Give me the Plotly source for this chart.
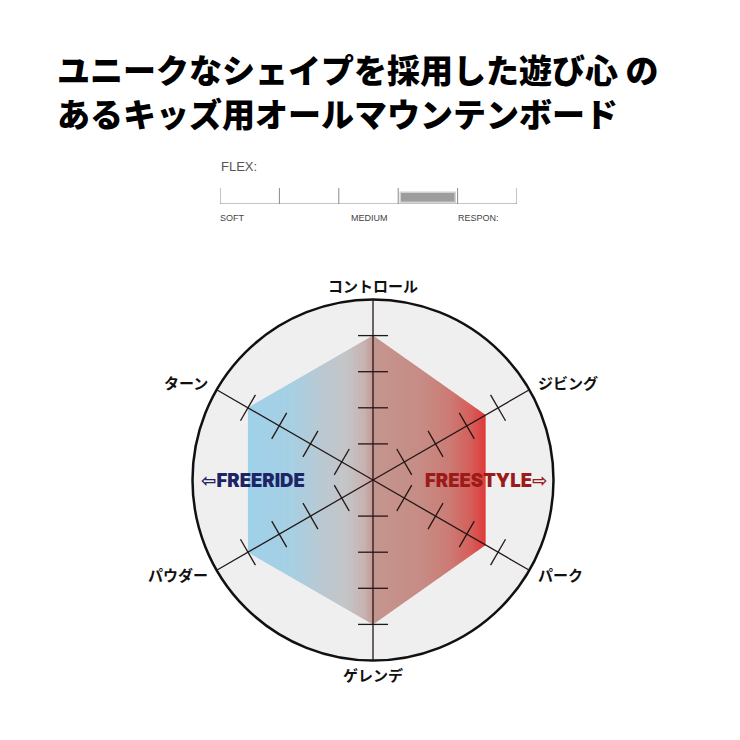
import numpy as np
import plotly.graph_objects as go

# ---------------- data ----------------
TITLE_LINES = ["ユニークなシェイプを採用した遊び心 の", "あるキッズ用オールマウンテンボード"]
AXES = ["コントロール", "ジビング", "パーク", "ゲレンデ", "パウダー", "ターン"]
ANGLES_DEG = [90, 30, -30, -90, -150, 150]
VALUES = [4, 3.6, 3.6, 4, 4, 4]
RADIAL_MAX = 5
RADIAL_TICKS = [1, 2, 3, 4]
STYLE_LABELS = ["⇦FREERIDE", "FREESTYLE⇨"]
FLEX_TITLE = "FLEX:"
FLEX_SEGMENTS = 5
FLEX_VALUE = 4
FLEX_LABELS = ["SOFT", "MEDIUM", "RESPON:"]
FLEX_LABEL_AT = [0, 2.2, 4]

# ---------------- style / layout ----------------
W = H = 740
OFF = 8                               # page body margin
CX, CY, S = 373 - OFF, 480 - OFF, 36.1  # pixel centre and px per unit
XR = [-CX / S, (W - CX) / S]
YR = [-(H - CY) / S, CY / S]


def px(x):
    return (x - OFF) / W


def py(y):
    return 1 - (y - OFF) / H


GRAD = [(0.00, "#9fd1ea"), (0.18, "#a6d0e4"), (0.30, "#b8c9d4"), (0.41, "#c5c5c8"),
        (0.49, "#c7b3b2"), (0.53, "#c4968f"), (0.73, "#c68c85"), (0.85, "#cc7b75"),
        (0.94, "#d65e59"), (1.00, "#df3a3a")]


def hex2rgb(h):
    h = h.lstrip("#")
    return [int(h[i:i + 2], 16) for i in (0, 2, 4)]


def grad_color(f):
    f = min(max(f, 0), 1)
    for (f0, c0), (f1, c1) in zip(GRAD[:-1], GRAD[1:]):
        if f <= f1:
            t = 0 if f1 == f0 else (f - f0) / (f1 - f0)
            a, b = hex2rgb(c0), hex2rgb(c1)
            return "rgb(%d,%d,%d)" % tuple(round(a[i] + t * (b[i] - a[i])) for i in range(3))
    return GRAD[-1][1]


def clip(poly, x0, keep_greater):
    out = []
    n = len(poly)
    for i in range(n):
        P, Q = poly[i], poly[(i + 1) % n]
        pin = P[0] >= x0 if keep_greater else P[0] <= x0
        qin = Q[0] >= x0 if keep_greater else Q[0] <= x0
        if pin:
            out.append(P)
        if pin != qin:
            t = (x0 - P[0]) / (Q[0] - P[0])
            out.append((x0, P[1] + t * (Q[1] - P[1])))
    return out


ang = np.radians(ANGLES_DEG)
hexpts = [(v * np.cos(a), v * np.sin(a)) for v, a in zip(VALUES, ang)]
xmin = min(p[0] for p in hexpts)
xmax = max(p[0] for p in hexpts)

fig = go.Figure()

# gradient-filled polygon as thin vertical strips
N = 160
step = (xmax - xmin) / N
for i in range(N):
    a = xmin + i * step
    b = min(a + step * 1.8, xmax)
    poly = clip(clip(hexpts, a, True), b, False)
    if len(poly) < 3:
        continue
    xs = [p[0] for p in poly] + [poly[0][0]]
    ys = [p[1] for p in poly] + [poly[0][1]]
    fig.add_trace(go.Scatter(x=xs, y=ys, mode="lines", fill="toself",
                             fillcolor=grad_color((a + step / 2 - xmin) / (xmax - xmin)),
                             line=dict(width=0), hoverinfo="skip", showlegend=False))

# spokes
sx, sy = [], []
for a in ang:
    sx += [0, RADIAL_MAX * np.cos(a), None]
    sy += [0, RADIAL_MAX * np.sin(a), None]
fig.add_trace(go.Scatter(x=sx, y=sy, mode="lines", line=dict(color="#221714", width=1.3),
                         hoverinfo="skip", showlegend=False))

# tick marks
HL = 0.415
tx, ty = [], []
for a in ang:
    ux, uy = -np.sin(a), np.cos(a)
    for r in RADIAL_TICKS:
        x0, y0 = r * np.cos(a), r * np.sin(a)
        tx += [x0 - HL * ux, x0 + HL * ux, None]
        ty += [y0 - HL * uy, y0 + HL * uy, None]
fig.add_trace(go.Scatter(x=tx, y=ty, mode="lines", line=dict(color="#221714", width=1.3),
                         hoverinfo="skip", showlegend=False))

# axis labels
LABEL_FONT = dict(size=15, color="#111", family="Noto Sans CJK JP", weight="bold")
for name, a in zip(AXES, ang):
    c, s = np.cos(a), np.sin(a)
    if abs(c) < 0.01:
        r = 5.4
        fig.add_annotation(x=r * c, y=r * s, text=name, showarrow=False, xanchor="center",
                           yanchor="middle", font=LABEL_FONT)
    else:
        r = 5.2
        fig.add_annotation(x=r * c, y=r * s, text=name, showarrow=False,
                           xanchor="left" if c > 0 else "right", yanchor="middle",
                           yshift=4 if s > 0 else -1, font=LABEL_FONT)

# style labels
fig.add_annotation(x=(253 - OFF - CX) / S, y=0, text=STYLE_LABELS[0], showarrow=False,
                   xanchor="center", yanchor="middle",
                   font=dict(size=18.5, color="#1d2566", family="Inter, DejaVu Sans", weight=900))
fig.add_annotation(x=(486 - OFF - CX) / S, y=0, text=STYLE_LABELS[1], showarrow=False,
                   xanchor="center", yanchor="middle",
                   font=dict(size=18.5, color="#9c1a1a", family="Inter, DejaVu Sans", weight=900))

# outer circle
fig.add_shape(type="circle", xref="x", yref="y", x0=-RADIAL_MAX, y0=-RADIAL_MAX,
              x1=RADIAL_MAX, y1=RADIAL_MAX, fillcolor="#efefef",
              line=dict(color="#111", width=2.5), layer="below")

# ---------------- flex bar ----------------
FX0, FX1 = 220, 517
seg_px = (FX1 - FX0) / FLEX_SEGMENTS
fig.add_trace(go.Bar(x=[FLEX_VALUE - 0.49], y=[0.63], base=[0.06], width=0.92,
                     marker=dict(color="#9d9d9d", line=dict(color="#d2d2d2", width=1.5)),
                     xaxis="x2", yaxis="y2", hoverinfo="skip", showlegend=False))
fx, fy = [0, FLEX_SEGMENTS, None], [0, 0, None]
for k in range(FLEX_SEGMENTS + 1):
    fx += [k, k, None]
    fy += [0, 1, None]
fig.add_trace(go.Scatter(x=fx, y=fy, mode="lines", line=dict(color="#8a8a8a", width=1),
                         xaxis="x2", yaxis="y2", hoverinfo="skip", showlegend=False))
for lab, pos in zip(FLEX_LABELS, FLEX_LABEL_AT):
    fig.add_annotation(x=px(FX0 - 2 + pos * seg_px), y=py(218), xref="paper", yref="paper",
                       text=lab, showarrow=False, xanchor="left", yanchor="middle",
                       font=dict(size=9, color="#444",
                                 family="Liberation Sans Narrow, Liberation Sans"))
fig.add_annotation(x=px(219), y=py(166), xref="paper", yref="paper", text=FLEX_TITLE,
                   showarrow=False, xanchor="left", yanchor="middle",
                   font=dict(size=13, color="#555", family="Liberation Sans"))

# ---------------- title ----------------
for line, ypx in zip(TITLE_LINES, [69, 113]):
    fig.add_annotation(x=px(55), y=py(ypx), xref="paper", yref="paper", text=line,
                       showarrow=False, xanchor="left", yanchor="middle",
                       font=dict(size=33, color="#000", family="Noto Sans CJK JP", weight=900))

fig.update_layout(
    width=W, height=H, autosize=False, margin=dict(l=0, r=0, t=0, b=0),
    paper_bgcolor="white", plot_bgcolor="rgba(0,0,0,0)", showlegend=False,
    xaxis=dict(range=XR, visible=False, domain=[0, 1], fixedrange=True),
    yaxis=dict(range=YR, visible=False, domain=[0, 1], fixedrange=True),
    xaxis2=dict(range=[0, FLEX_SEGMENTS], domain=[px(FX0), px(FX1)], visible=False,
                anchor="y2", fixedrange=True),
    yaxis2=dict(range=[0, 1], domain=[py(204), py(188)], visible=False,
                anchor="x2", fixedrange=True),
    bargap=0,
)

fig.write_html("out.html")
